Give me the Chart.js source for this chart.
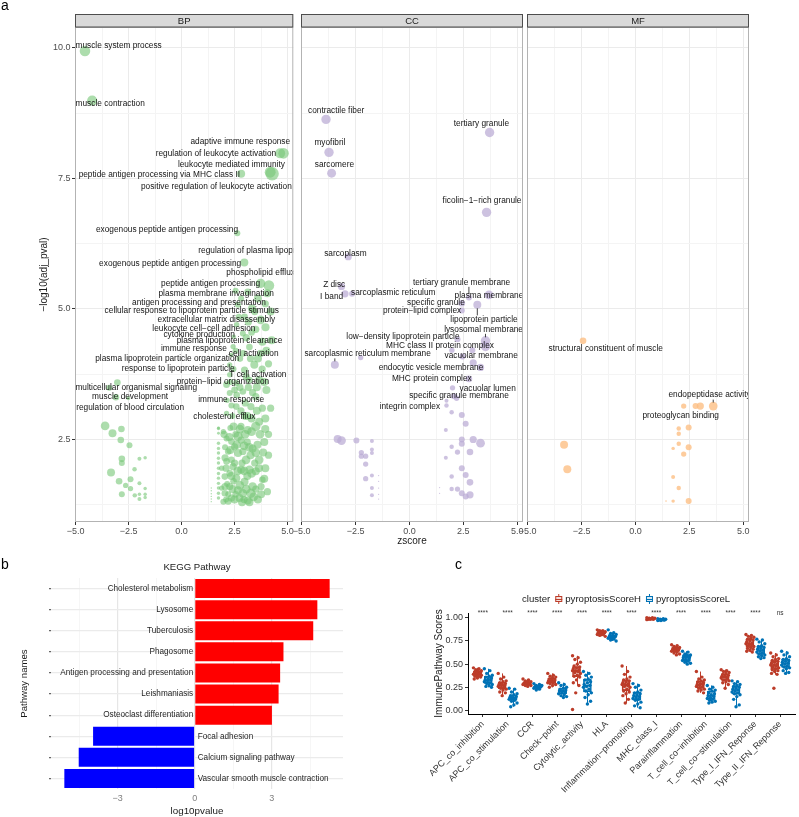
<!DOCTYPE html>
<html>
<head>
<meta charset="utf-8">
<script src="https://cdn.jsdelivr.net/npm/chart.js@4.4.1/dist/chart.umd.min.js"></script>
<style>
  body { margin: 0; background: #fff; }
  #fig { position: relative; width: 799px; height: 817px; overflow: hidden; }
  canvas { position: absolute; }
</style>
</head>
<body>
<div id="fig">
  <canvas id="bp" width="300" height="552" style="left:0;top:0"></canvas>
  <canvas id="cc" width="240" height="552" style="left:290px;top:0"></canvas>
  <canvas id="mf" width="283" height="552" style="left:516px;top:0"></canvas>
  <canvas id="kegg" width="400" height="272" style="left:0;top:545px"></canvas>
  <canvas id="immune" width="399" height="272" style="left:400px;top:545px"></canvas>
</div>
<script>
const FONT = '"Liberation Sans", Arial, sans-serif';
Chart.defaults.font.family = FONT;
Chart.defaults.color = '#4d4d4d';

// ---- panel a: GO terms, [zscore, -log10(adj_pval), gene count] ----
const bpPoints = [
  [-4.56, 9.94, 28], [-4.22, 8.99, 26], [4.65, 7.98, 25], [4.81, 7.98, 28], [4.27, 7.59, 45], [4.18, 7.62, 30],
  [2.81, 7.59, 16], [2.63, 6.45, 9], [2.96, 5.89, 16],
  [3.73, 5.49, 22], [4.12, 5.45, 28], [3.12, 5.33, 11], [2.81, 5.20, 9], [4.04, 5.30, 16], [2.66, 5.08, 9],
  [3.32, 5.01, 16], [2.97, 4.85, 11], [3.73, 4.79, 19], [3.96, 4.65, 16], [3.50, 4.61, 13], [2.89, 4.53, 9],
  [2.46, 4.47, 5], [2.43, 4.28, 7], [3.81, 4.37, 16], [3.20, 4.27, 11], [3.73, 4.15, 13], [2.35, 4.12, 5],
  [2.27, 3.93, 7], [3.43, 3.93, 16], [2.97, 3.83, 13], [2.27, 3.74, 7], [2.12, 3.55, 11], [2.58, 3.58, 9],
  [3.20, 3.64, 11], [3.66, 3.64, 16], [2.27, 3.39, 9], [2.89, 3.42, 11], [3.50, 3.32, 13], [2.58, 3.13, 11],
  [3.27, 3.13, 13], [3.81, 3.10, 13], [2.12, 3.00, 7], [2.97, 2.94, 11], [3.66, 2.84, 16], [1.74, 2.72, 2],
  [1.74, 2.62, 2], [1.97, 2.65, 7],
  [4.20, 4.95, 16], [3.95, 5.10, 13], [4.25, 4.40, 16], [4.10, 3.95, 13], [4.00, 3.45, 16], [4.20, 3.10, 13],
  [3.45, 4.95, 13], [2.60, 4.70, 7], [3.05, 4.45, 13], [3.30, 4.55, 11], [2.75, 4.05, 11], [3.05, 3.70, 13],
  [2.45, 3.85, 9], [3.80, 3.85, 13], [3.35, 3.40, 13], [2.60, 3.35, 11], [3.00, 3.20, 13], [2.40, 2.95, 9],
  [3.30, 2.90, 16], [3.95, 2.90, 16], [2.15, 3.25, 7], [2.80, 2.75, 13], [4.10, 2.60, 13],
  [2.30, 3.60, 9], [2.50, 3.45, 11], [2.75, 3.50, 13], [3.15, 3.50, 13], [3.55, 3.50, 16], [3.90, 3.60, 16],
  [2.35, 3.15, 9], [2.80, 3.05, 13], [3.10, 2.95, 16], [3.55, 3.05, 16], [2.55, 4.20, 9], [2.90, 4.15, 11],
  [3.25, 4.05, 13], [3.60, 4.05, 16], [4.00, 4.20, 16], [2.70, 4.85, 9], [3.15, 4.75, 13], [3.60, 5.20, 16],
  [2.55, 5.35, 9],
  [-3.03, 3.59, 11], [-3.41, 3.49, 9], [-3.10, 3.31, 11], [-2.52, 3.29, 4],
  [-3.61, 2.76, 19], [-3.26, 2.62, 16], [-2.84, 2.70, 11], [-2.87, 2.49, 11], [-2.46, 2.39, 9], [-2.82, 2.13, 11],
  [-2.82, 2.05, 9], [-1.99, 2.13, 4], [-1.72, 2.15, 3], [-2.22, 1.93, 5], [-3.33, 1.87, 16], [-2.41, 1.74, 9],
  [-2.95, 1.70, 11], [-2.64, 1.62, 7], [-1.99, 1.66, 4], [-2.41, 1.56, 7], [-1.72, 1.56, 3], [-2.82, 1.45, 9],
  [-2.21, 1.43, 5], [-1.99, 1.36, 4], [-1.72, 1.45, 3], [-1.72, 1.39, 3], [-1.99, 1.45, 3],
  [2.66, 2.56, 22], [3.12, 2.68, 16], [3.50, 2.75, 22], [2.35, 2.46, 11], [2.81, 2.49, 13], [3.35, 2.33, 16],
  [2.20, 2.27, 11], [2.66, 2.24, 16], [3.04, 2.11, 19], [2.12, 2.08, 11], [2.43, 1.98, 13], [2.81, 1.92, 16],
  [3.20, 1.92, 19], [2.04, 1.79, 11], [2.58, 1.76, 16], [2.97, 1.69, 16], [3.35, 1.60, 19], [2.27, 1.60, 13],
  [2.66, 1.53, 16], [2.04, 1.47, 11], [2.35, 1.38, 13], [2.73, 1.38, 16], [3.12, 1.33, 16], [1.97, 1.31, 9],
  [2.12, 2.52, 9], [2.27, 1.85, 11], [2.50, 2.36, 13], [2.89, 2.27, 13], [3.58, 2.40, 16], [3.66, 2.11, 19],
  [3.50, 1.89, 16], [3.81, 1.73, 11], [3.27, 1.47, 22], [2.89, 1.47, 19], [2.35, 2.11, 11], [1.89, 1.95, 7],
  [1.89, 1.57, 7],
  [3.90, 2.45, 16], [4.10, 2.20, 13], [3.95, 1.95, 16], [4.05, 1.50, 13], [3.60, 1.35, 16], [3.75, 1.60, 13],
  [3.10, 1.80, 16], [3.45, 2.05, 13], [2.55, 2.60, 11], [2.30, 2.72, 9], [2.05, 2.35, 9], [2.50, 2.05, 13],
  [2.15, 1.65, 9], [2.45, 1.70, 11], [2.85, 2.05, 13], [3.10, 2.45, 13], [2.55, 1.45, 11], [2.95, 1.35, 13],
  [2.20, 1.45, 9], [3.50, 1.55, 13], [2.10, 1.35, 9], [3.25, 2.20, 16],
  [2.00, 2.60, 13], [2.25, 2.55, 16], [2.45, 2.75, 16], [2.75, 2.70, 19], [3.00, 2.60, 19], [3.30, 2.65, 19],
  [3.70, 2.60, 19], [3.95, 2.70, 16], [2.05, 2.15, 13], [2.30, 2.30, 16], [2.60, 2.40, 19], [2.95, 2.38, 19],
  [3.20, 2.35, 19], [3.50, 2.25, 19], [3.85, 2.25, 16], [2.10, 1.95, 13], [2.35, 1.80, 16], [2.65, 1.90, 19],
  [2.95, 1.90, 19], [3.30, 1.85, 19], [3.65, 1.95, 16], [3.90, 1.75, 16], [2.05, 1.60, 13], [2.40, 1.55, 16],
  [2.75, 1.62, 19], [3.05, 1.55, 19], [3.40, 1.40, 19], [3.75, 1.45, 16], [2.20, 1.32, 13], [2.50, 1.35, 16],
  [2.85, 1.30, 16], [3.20, 1.30, 16],
  [1.74, 2.71, 3], [1.74, 2.43, 3], [1.74, 2.33, 3], [1.74, 2.24, 3], [1.74, 2.14, 3], [1.74, 2.05, 3],
  [1.74, 1.95, 3], [1.74, 1.85, 3], [1.74, 1.76, 3], [1.74, 1.66, 3], [1.74, 1.57, 3], [1.74, 1.47, 3],
  [1.74, 1.38, 3],
  [1.40, 1.57, 0.5], [1.40, 1.52, 0.5], [1.40, 1.46, 0.5], [1.40, 1.41, 0.5], [1.40, 1.36, 0.5], [1.40, 1.31, 0.5]
];
const ccPoints = [
  [-3.87, 8.63, 22], [3.72, 8.38, 22], [-3.73, 8.00, 22], [-3.61, 7.60, 20], [3.58, 6.85, 22], [-2.84, 6.00, 13],
  [-3.15, 5.43, 13], [-2.99, 5.29, 13], [-2.66, 5.29, 9], [2.76, 5.22, 9], [3.69, 5.27, 19], [2.43, 5.11, 11],
  [2.43, 4.97, 9], [3.15, 5.08, 16], [3.53, 4.39, 22], [2.23, 4.42, 9], [3.53, 4.28, 22], [-3.46, 3.93, 16],
  [-2.26, 4.07, 7], [2.96, 3.97, 13], [3.30, 3.88, 13], [2.76, 3.66, 11], [2.00, 3.49, 7], [2.07, 3.33, 9],
  [1.72, 3.15, 5], [2.46, 4.09, 9], [2.92, 4.21, 9], [1.97, 4.21, 7],
  [-3.33, 2.51, 16], [-3.15, 2.48, 19], [-2.46, 2.48, 9], [-1.74, 2.47, 4], [-2.23, 2.25, 7], [-2.03, 2.18, 7],
  [-2.23, 2.18, 7], [-1.74, 2.31, 4], [-1.74, 2.24, 4], [-2.03, 2.03, 7], [-2.03, 1.75, 7], [-1.74, 1.81, 4],
  [-1.74, 1.57, 4], [-1.74, 1.43, 4], [-1.43, 1.81, 0.4], [-1.43, 1.70, 0.4], [-1.43, 1.57, 0.4], [-1.43, 1.45, 0.4],
  [-1.43, 1.36, 0.4],
  [1.69, 2.68, 4], [1.96, 3.02, 5], [2.43, 2.97, 9], [2.61, 2.80, 9], [2.43, 2.50, 9], [2.43, 2.42, 9],
  [2.96, 2.50, 13], [3.30, 2.43, 19], [1.96, 2.36, 5], [2.23, 2.26, 7], [2.81, 2.26, 11], [1.69, 2.15, 4],
  [2.43, 1.95, 9], [2.61, 1.82, 9], [1.96, 1.79, 5], [2.81, 1.68, 11], [1.96, 1.55, 5], [2.23, 1.55, 7],
  [2.43, 1.47, 9], [2.61, 1.41, 9], [2.81, 1.44, 13], [1.40, 1.58, 0.4], [1.40, 1.47, 0.4], [1.72, 3.24, 4],
  [2.19, 3.29, 7]
];
const mfPoints = [
  [-2.43, 4.39, 11], [3.61, 3.14, 19], [3.01, 3.14, 13], [2.79, 3.14, 9], [2.24, 3.14, 7], [2.47, 2.73, 9],
  [2.01, 2.71, 5], [2.01, 2.61, 5], [-3.31, 2.40, 16], [2.01, 2.42, 5], [1.75, 2.33, 3], [2.47, 2.35, 9],
  [2.24, 2.22, 7], [-3.16, 1.93, 16], [1.75, 1.78, 4], [2.01, 1.57, 5], [2.47, 1.32, 9], [1.75, 1.32, 3],
  [1.42, 1.32, 0.6]
];

// term labels: [text, zscore, -log10p, (segment target zscore, -log10p)]
const bpLabels = [
  ['muscle system process', -2.97, 10.04],
  ['muscle contraction', -3.37, 8.93],
  ['adaptive immune response', 2.77, 8.20],
  ['regulation of leukocyte activation', 1.62, 7.98],
  ['leukocyte mediated immunity', 2.35, 7.77],
  ['peptide antigen processing via MHC class II', -1.05, 7.57],
  ['positive regulation of leukocyte activation', 1.64, 7.34],
  ['exogenous peptide antigen processing', -0.69, 6.51],
  ['regulation of plasma lipoprotein particle levels', 4.75, 6.115],
  ['exogenous peptide antigen processing', -0.54, 5.87],
  ['phospholipid efflux', 3.73, 5.70],
  ['peptide antigen processing', 1.37, 5.48],
  ['plasma membrane invagination', 1.63, 5.30],
  ['antigen processing and presentation', 0.82, 5.12],
  ['cellular response to lipoprotein particle stimulus', 0.48, 4.96],
  ['extracellular matrix disassembly', 1.64, 4.80],
  ['leukocyte cell−cell adhesion', 1.05, 4.63],
  ['cytokine production', 0.83, 4.50],
  ['plasma lipoprotein clearance', 2.26, 4.39],
  ['immune response', 0.58, 4.23],
  ['cell activation', 3.40, 4.15],
  ['plasma lipoprotein particle organization', -0.68, 4.04],
  ['response to lipoprotein particle', -0.16, 3.86],
  ['T cell activation', 3.60, 3.74],
  ['protein−lipid organization', 1.95, 3.61],
  ['multicellular organismal signaling', -2.14, 3.50],
  ['muscle development', -2.43, 3.31],
  ['immune response', 2.34, 3.27],
  ['regulation of blood circulation', -2.43, 3.10],
  ['cholesterol efflux', 2.02, 2.93]
];
const ccLabels = [
  ['contractile fiber', -3.40, 8.79],
  ['tertiary granule', 3.34, 8.55],
  ['myofibril', -3.69, 8.19],
  ['sarcomere', -3.48, 7.76],
  ['ficolin−1−rich granule', 3.37, 7.07],
  ['sarcoplasm', -2.97, 6.05],
  ['Z disc', -3.49, 5.47],
  ['I band', -3.61, 5.23],
  ['sarcoplasmic reticulum', -0.75, 5.31],
  ['tertiary granule membrane', 2.42, 5.51, 2.76, 5.22],
  ['plasma membrane', 3.69, 5.25],
  ['specific granule', 1.23, 5.12],
  ['protein−lipid complex', 0.59, 4.97],
  ['lipoprotein particle', 3.46, 4.79, 3.15, 5.08],
  ['lysosomal membrane', 3.44, 4.61, 3.53, 4.39],
  ['low−density lipoprotein particle', -0.30, 4.46],
  ['MHC class II protein complex', 1.42, 4.30],
  ['sarcoplasmic reticulum membrane', -1.94, 4.14, -3.46, 3.93],
  ['vacuolar membrane', 3.33, 4.10],
  ['endocytic vesicle membrane', 1.00, 3.88],
  ['MHC protein complex', 1.04, 3.66],
  ['vacuolar lumen', 3.63, 3.48],
  ['specific granule membrane', 2.30, 3.33],
  ['integrin complex', 0.02, 3.13]
];
const mfLabels = [
  ['structural constituent of muscle', -1.38, 4.23],
  ['endopeptidase activity', 3.44, 3.35, 3.61, 3.14],
  ['proteoglycan binding', 2.10, 2.96, 3.01, 3.14]
];
const zGrid = [-5, -3.75, -2.5, -1.25, 0, 1.25, 2.5, 3.75, 5];
const lpGrid = [1.25, 2.5, 3.75, 5, 6.25, 7.5, 8.75, 10];

// ---- panel b: KEGG ----
const keggTerms = ['Cholesterol metabolism', 'Lysosome', 'Tuberculosis', 'Phagosome',
  'Antigen processing and presentation', 'Leishmaniasis', 'Osteoclast differentiation',
  'Focal adhesion', 'Calcium signaling pathway', 'Vascular smooth muscle contraction'];
const keggLogP = [5.26, 4.78, 4.62, 3.46, 3.33, 3.27, 3.01, -3.96, -4.52, -5.08];
const keggGrid = [-4.5, -3, -1.5, 0, 1.5, 3, 4.5];

// ---- panel c: immune pathway scores ----
const immuneCats = ['APC_co_inhibition', 'APC_co_stimulation', 'CCR', 'Check−point', 'Cytolytic_activity', 'HLA',
  'Inflammation−promoting', 'MHC_class_I', 'Parainflammation', 'T_cell_co−inhibition', 'T_cell_co−stimulation',
  'Type_I_IFN_Reponse', 'Type_II_IFN_Reponse'];
const clusterNames = ['pyroptosisScoreH', 'pyroptosisScoreL'];
const sigLabels = ['****', '****', '****', '****', '****', '****', '****', '****', '****', '****', '****', '****', 'ns'];
const scoreTicks = [0, 0.25, 0.5, 0.75, 1];
const scoresH = [
  [0.46, 0.45, 0.44, 0.43, 0.43, 0.42, 0.41, 0.41, 0.40, 0.40, 0.40, 0.39, 0.39, 0.38, 0.38, 0.37, 0.37, 0.36, 0.35, 0.34],
  [0.40, 0.36, 0.34, 0.32, 0.31, 0.30, 0.29, 0.28, 0.28, 0.27, 0.27, 0.26, 0.25, 0.24, 0.23, 0.22, 0.20, 0.19, 0.16],
  [0.34, 0.33, 0.32, 0.31, 0.31, 0.30, 0.30, 0.30, 0.29, 0.29, 0.29, 0.28, 0.28, 0.27, 0.27, 0.26],
  [0.40, 0.38, 0.37, 0.36, 0.35, 0.34, 0.33, 0.33, 0.32, 0.32, 0.31, 0.30, 0.30, 0.29, 0.28, 0.27, 0.25],
  [0.59, 0.57, 0.55, 0.52, 0.50, 0.48, 0.47, 0.46, 0.45, 0.44, 0.43, 0.43, 0.42, 0.41, 0.40, 0.38, 0.37, 0.36, 0.33, 0.30, 0.27, 0.19, 0.01],
  [0.87, 0.86, 0.86, 0.85, 0.85, 0.85, 0.84, 0.84, 0.84, 0.83, 0.83, 0.82, 0.82, 0.81, 0.80],
  [0.48, 0.42, 0.39, 0.36, 0.34, 0.33, 0.32, 0.31, 0.30, 0.29, 0.28, 0.28, 0.27, 0.26, 0.25, 0.23, 0.21, 0.20, 0.18, 0.16, 0.12, 0.08],
  [1.00, 1.00, 0.995, 0.995, 0.99, 0.99, 0.99, 0.99, 0.985, 0.985, 0.985, 0.98],
  [0.71, 0.70, 0.69, 0.68, 0.68, 0.67, 0.66, 0.66, 0.65, 0.65, 0.64, 0.64, 0.63, 0.62, 0.61, 0.60],
  [0.42, 0.36, 0.34, 0.33, 0.32, 0.31, 0.30, 0.29, 0.28, 0.28, 0.27, 0.26, 0.25, 0.24, 0.23, 0.22, 0.21, 0.19],
  [0.44, 0.43, 0.42, 0.41, 0.40, 0.39, 0.38, 0.37, 0.37, 0.36, 0.36, 0.35, 0.34, 0.33, 0.32, 0.31, 0.30, 0.28, 0.24],
  [0.82, 0.81, 0.80, 0.79, 0.78, 0.77, 0.76, 0.75, 0.74, 0.73, 0.72, 0.72, 0.71, 0.70, 0.69, 0.68, 0.67, 0.66, 0.65, 0.64, 0.63],
  [0.62, 0.60, 0.58, 0.56, 0.55, 0.54, 0.53, 0.52, 0.51, 0.50, 0.49, 0.49, 0.48, 0.47, 0.46, 0.45, 0.44, 0.43, 0.42, 0.40, 0.39, 0.24]
];
const scoresL = [
  [0.45, 0.43, 0.40, 0.38, 0.37, 0.36, 0.35, 0.34, 0.33, 0.33, 0.32, 0.31, 0.30, 0.29, 0.28, 0.27, 0.26, 0.25],
  [0.24, 0.23, 0.20, 0.18, 0.17, 0.16, 0.15, 0.14, 0.14, 0.13, 0.13, 0.12, 0.11, 0.10, 0.08, 0.06, 0.04],
  [0.29, 0.28, 0.27, 0.27, 0.26, 0.26, 0.26, 0.25, 0.25, 0.25, 0.24, 0.24, 0.23, 0.22],
  [0.30, 0.28, 0.27, 0.25, 0.24, 0.23, 0.22, 0.21, 0.21, 0.20, 0.19, 0.18, 0.17, 0.16, 0.15, 0.14],
  [0.42, 0.40, 0.38, 0.36, 0.34, 0.33, 0.31, 0.30, 0.28, 0.27, 0.26, 0.25, 0.23, 0.21, 0.19, 0.17, 0.14, 0.10, 0.07],
  [0.87, 0.84, 0.83, 0.82, 0.81, 0.81, 0.80, 0.80, 0.79, 0.79, 0.78, 0.78, 0.77, 0.76, 0.75],
  [0.29, 0.27, 0.25, 0.22, 0.20, 0.19, 0.18, 0.17, 0.16, 0.15, 0.14, 0.13, 0.12, 0.11, 0.09, 0.07, 0.05, 0.03],
  [0.99, 0.99, 0.985, 0.985, 0.98, 0.98, 0.98, 0.98, 0.975, 0.975, 0.97, 0.97],
  [0.64, 0.63, 0.61, 0.60, 0.60, 0.59, 0.58, 0.58, 0.57, 0.56, 0.55, 0.54, 0.53, 0.52, 0.51, 0.50],
  [0.27, 0.25, 0.23, 0.22, 0.21, 0.19, 0.18, 0.17, 0.16, 0.15, 0.14, 0.13, 0.12, 0.11, 0.10, 0.09, 0.08],
  [0.32, 0.31, 0.29, 0.28, 0.27, 0.26, 0.25, 0.24, 0.23, 0.22, 0.21, 0.20, 0.19, 0.18, 0.17, 0.15, 0.12, 0.06, 0.04],
  [0.77, 0.76, 0.74, 0.72, 0.70, 0.69, 0.68, 0.67, 0.66, 0.65, 0.64, 0.63, 0.62, 0.61, 0.60, 0.59, 0.58, 0.57, 0.56],
  [0.64, 0.62, 0.60, 0.58, 0.56, 0.55, 0.54, 0.53, 0.52, 0.51, 0.50, 0.49, 0.48, 0.47, 0.46, 0.45, 0.43, 0.41, 0.40]
];

const minus = s => String(s).replace('-', '−');
const isStep = (v, step) => Math.abs(v / step - Math.round(v / step)) < 1e-6;

// panel letters
const panelTag = {
  id: 'panelTag',
  afterDraw(chart, args, o) {
    if (!o.text) return;
    const ctx = chart.ctx;
    ctx.save();
    ctx.font = '14px ' + FONT;
    ctx.fillStyle = '#000';
    ctx.textBaseline = 'alphabetic';
    ctx.fillText(o.text, o.x, o.y);
    ctx.restore();
  }
};

// facet strip, panel border and repelled term labels
const facetDeco = {
  id: 'facetDeco',
  afterDatasetsDraw(chart, args, o) {
    const { ctx, chartArea: a, scales: { x, y } } = chart;
    ctx.save();
    ctx.beginPath();
    ctx.rect(a.left, a.top, a.right - a.left, a.bottom - a.top);
    ctx.clip();
    ctx.font = '8.3px ' + FONT;
    ctx.textAlign = 'center';
    ctx.textBaseline = 'middle';
    ctx.fillStyle = '#141414';
    ctx.strokeStyle = '#141414';
    ctx.lineWidth = 0.8;
    o.labels.forEach(([text, lx, ly, tx, ty]) => {
      const cx = x.getPixelForValue(lx), cy = y.getPixelForValue(ly);
      ctx.fillText(text, cx, cy);
      if (tx === undefined) return;
      const w = ctx.measureText(text).width / 2 + 1, h = 4.5;
      const px = x.getPixelForValue(tx), py = y.getPixelForValue(ty);
      const sx = Math.min(Math.max(px, cx - w), cx + w);
      const sy = Math.min(Math.max(py, cy - h), cy + h);
      const d = Math.hypot(px - sx, py - sy);
      if (d > 5) {
        const k = (d - 3.5) / d;
        ctx.beginPath();
        ctx.moveTo(sx, sy);
        ctx.lineTo(sx + (px - sx) * k, sy + (py - sy) * k);
        ctx.stroke();
      }
    });
    ctx.restore();

    ctx.save();
    ctx.strokeStyle = '#b3b3b3';
    ctx.lineWidth = 1;
    ctx.strokeRect(a.left + 0.5, a.top + 0.5, a.right - a.left - 1, a.bottom - a.top - 1);
    ctx.fillStyle = '#d9d9d9';
    ctx.fillRect(a.left, a.top - 13, a.right - a.left, 13);
    ctx.strokeStyle = '#4d4d4d';
    ctx.strokeRect(a.left + 0.5, a.top - 12.5, a.right - a.left - 1, 12.5);
    ctx.fillStyle = '#1a1a1a';
    ctx.font = '9.5px ' + FONT;
    ctx.textAlign = 'center';
    ctx.textBaseline = 'middle';
    ctx.fillText(o.strip, (a.left + a.right) / 2, a.top - 6);
    ctx.restore();
  }
};

function facet(id, strip, pts, labels, colour, pad, withY, withTitle, tag) {
  return new Chart(document.getElementById(id), {
    type: 'bubble',
    data: {
      datasets: [{
        data: pts.map(p => ({ x: p[0], y: p[1], r: Math.sqrt(p[2]) })),
        backgroundColor: colour,
        borderWidth: 0
      }]
    },
    options: {
      responsive: false,
      animation: false,
      events: [],
      devicePixelRatio: 1,
      layout: { padding: { left: pad[0], right: pad[1], top: 27, bottom: 0 } },
      plugins: {
        legend: { display: false },
        tooltip: { enabled: false },
        facetDeco: { strip, labels },
        panelTag: tag || {}
      },
      scales: {
        x: {
          type: 'linear',
          min: -5.03,
          max: 5.27,
          afterBuildTicks: ax => { ax.ticks = zGrid.map(v => ({ value: v })); },
          afterFit: ax => { ax.height = 30; ax.paddingLeft = 0; ax.paddingRight = 0; },
          border: { display: false },
          grid: {
            color: c => isStep(c.tick.value, 2.5) ? '#ebebeb' : '#f4f4f4',
            tickColor: c => isStep(c.tick.value, 2.5) ? '#333' : 'rgba(0,0,0,0)',
            tickLength: 3
          },
          ticks: {
            autoSkip: false, maxRotation: 0, padding: 1,
            font: { size: 9 }, color: '#4d4d4d',
            callback: v => isStep(v, 2.5) ? minus(v.toFixed(1)) : ''
          },
          title: {
            display: withTitle, text: 'zscore', color: '#1a1a1a',
            font: { size: 10 }, padding: { top: 0, bottom: 5 }
          }
        },
        y: {
          type: 'linear',
          min: 0.92,
          max: 10.4,
          afterBuildTicks: ax => { ax.ticks = lpGrid.map(v => ({ value: v })); },
          afterFit: ax => { ax.width = withY ? 75 : 0; ax.paddingTop = 0; ax.paddingBottom = 0; },
          border: { display: false },
          grid: {
            color: c => isStep(c.tick.value, 2.5) ? '#ebebeb' : '#f4f4f4',
            tickColor: c => isStep(c.tick.value, 2.5) ? '#333' : 'rgba(0,0,0,0)',
            tickLength: 3,
            drawTicks: withY
          },
          ticks: {
            display: withY, autoSkip: false, padding: 1.5,
            font: { size: 9 }, color: '#4d4d4d',
            callback: v => isStep(v, 2.5) ? v.toFixed(1) : ''
          },
          title: {
            display: withY, text: '−log10(adj_pval)', color: '#1a1a1a',
            font: { size: 10 }, padding: { top: 38, bottom: 0 }
          }
        }
      }
    },
    plugins: [facetDeco, panelTag]
  });
}

facet('bp', 'BP', bpPoints, bpLabels, 'rgba(118,198,118,0.6)', [0, 3], true, false, { text: 'a', x: 1, y: 9.5 });
facet('cc', 'CC', ccPoints, ccLabels, 'rgba(186,170,212,0.72)', [11, 7], false, true);
facet('mf', 'MF', mfPoints, mfLabels, 'rgba(253,190,130,0.78)', [11, 50], false, false);

// ---- panel b ----
const pathwayNames = {
  id: 'pathwayNames',
  afterDatasetsDraw(chart) {
    const { ctx, chartArea: a, scales: { x, y } } = chart;
    const zero = x.getPixelForValue(0);
    ctx.save();
    ctx.font = '8.2px ' + FONT;
    ctx.fillStyle = '#262626';
    ctx.textBaseline = 'middle';
    keggTerms.forEach((t, i) => {
      const up = keggLogP[i] > 0;
      ctx.textAlign = up ? 'right' : 'left';
      ctx.fillText(t, zero + (up ? -1.5 : 3), y.getPixelForValue(i));
    });
    ctx.font = '9.6px ' + FONT;
    ctx.fillStyle = '#1a1a1a';
    ctx.textAlign = 'center';
    ctx.fillText('KEGG Pathway', (a.left + a.right) / 2, 22);
    ctx.restore();
  }
};

new Chart(document.getElementById('kegg'), {
  type: 'bar',
  data: {
    labels: keggTerms,
    datasets: [{
      data: keggLogP,
      backgroundColor: keggLogP.map(v => v > 0 ? '#ff0000' : '#0000ff'),
      barPercentage: 0.9,
      categoryPercentage: 1
    }]
  },
  options: {
    indexAxis: 'y',
    responsive: false,
    animation: false,
    events: [],
    devicePixelRatio: 1,
    layout: { padding: { left: 0, right: 57, top: 33, bottom: 0 } },
    plugins: {
      legend: { display: false },
      tooltip: { enabled: false },
      panelTag: { text: 'b', x: 1, y: 24 }
    },
    scales: {
      x: {
        min: -5.6,
        max: 5.78,
        afterBuildTicks: ax => { ax.ticks = keggGrid.map(v => ({ value: v })); },
        afterFit: ax => { ax.height = 28; ax.paddingLeft = 0; ax.paddingRight = 0; },
        border: { display: false },
        grid: {
          color: c => isStep(c.tick.value, 3) ? '#e6e6e6' : '#f2f2f2',
          lineWidth: c => isStep(c.tick.value, 3) ? 1.2 : 0.7,
          drawTicks: false
        },
        ticks: {
          autoSkip: false, maxRotation: 0, padding: 4,
          font: { size: 9 }, color: '#7f7f7f',
          callback: v => isStep(v, 3) ? minus(v) : ''
        },
        title: {
          display: true, text: 'log10pvalue', color: '#1a1a1a',
          font: { size: 9.8 }, padding: { top: 0, bottom: 0 }
        }
      },
      y: {
        afterFit: ax => { ax.width = 51; ax.paddingTop = 0; ax.paddingBottom = 0; },
        border: { display: false },
        grid: { offset: false, color: '#ebebeb', lineWidth: 1.2, tickLength: 2, tickColor: '#666' },
        ticks: { display: false },
        title: {
          display: true, text: 'Pathway names', color: '#1a1a1a',
          font: { size: 9.6 }, padding: { top: 19, bottom: 0 }
        }
      }
    }
  },
  plugins: [pathwayNames, panelTag]
});

// ---- panel c ----
function quantile(s, p) {
  const h = (s.length - 1) * p, lo = Math.floor(h);
  return s[lo] + (s[Math.ceil(h)] - s[lo]) * (h - lo);
}
function boxStats(vals) {
  const s = [...vals].sort((a, b) => a - b);
  const q1 = quantile(s, 0.25), med = quantile(s, 0.5), q3 = quantile(s, 0.75), iqr = q3 - q1;
  const lo = s.find(v => v >= q1 - 1.5 * iqr);
  const hi = [...s].reverse().find(v => v <= q3 + 1.5 * iqr);
  return { q1, med, q3, lo, hi };
}
const groups = [
  { name: clusterNames[0], scores: scoresH, shift: -0.22, colour: '#BC3C29', fill: 'rgba(188,60,41,0.16)' },
  { name: clusterNames[1], scores: scoresL, shift: 0.22, colour: '#0072B5', fill: 'rgba(0,114,181,0.16)' }
];
groups.forEach(g => { g.stats = g.scores.map(boxStats); });
const jitter = k => (((k * 7) % 11) - 5) / 5 * 0.16;

const boxExtras = {
  id: 'boxExtras',
  beforeDatasetsDraw(chart) {
    const { ctx, scales: { x, y } } = chart;
    ctx.save();
    ctx.lineWidth = 1;
    groups.forEach(g => {
      ctx.strokeStyle = g.colour;
      g.stats.forEach((s, i) => {
        const cx = Math.round(x.getPixelForValue(i + g.shift)) + 0.5;
        ctx.beginPath();
        ctx.moveTo(cx, y.getPixelForValue(s.hi));
        ctx.lineTo(cx, y.getPixelForValue(s.q3));
        ctx.moveTo(cx, y.getPixelForValue(s.q1));
        ctx.lineTo(cx, y.getPixelForValue(s.lo));
        ctx.stroke();
      });
    });
    ctx.restore();
  },
  afterDatasetDraw(chart, args) {
    if (args.index > 1) return;
    const g = groups[args.index];
    const { ctx, scales: { x, y } } = chart;
    ctx.save();
    ctx.strokeStyle = g.colour;
    ctx.lineWidth = 1.2;
    g.stats.forEach((s, i) => {
      const cx = x.getPixelForValue(i + g.shift), my = y.getPixelForValue(s.med);
      ctx.beginPath();
      ctx.moveTo(cx - 4, my);
      ctx.lineTo(cx + 4, my);
      ctx.stroke();
    });
    ctx.restore();
  },
  afterDraw(chart) {
    const { ctx, scales: { x, y } } = chart;
    ctx.save();
    ctx.font = '6.5px ' + FONT;
    ctx.fillStyle = '#333';
    ctx.textAlign = 'center';
    ctx.textBaseline = 'middle';
    sigLabels.forEach((s, i) => ctx.fillText(s, x.getPixelForValue(i), y.getPixelForValue(1.045)));
    // legend
    ctx.font = '9.6px ' + FONT;
    ctx.fillStyle = '#1a1a1a';
    ctx.textAlign = 'left';
    let lx = 122;
    const ly = 54;
    ctx.fillText('cluster', lx, ly);
    lx += ctx.measureText('cluster').width + 5;
    groups.forEach(g => {
      ctx.fillStyle = g.fill;
      ctx.fillRect(lx, ly - 3, 7, 6);
      ctx.strokeStyle = g.colour;
      ctx.lineWidth = 1;
      ctx.strokeRect(lx + 0.5, ly - 2.5, 6, 5);
      ctx.beginPath();
      ctx.moveTo(lx, ly + 0.5); ctx.lineTo(lx + 7, ly + 0.5);
      ctx.moveTo(lx + 3.5, ly - 5); ctx.lineTo(lx + 3.5, ly - 2.5);
      ctx.moveTo(lx + 3.5, ly + 2.5); ctx.lineTo(lx + 3.5, ly + 5);
      ctx.stroke();
      lx += 10;
      ctx.fillStyle = '#1a1a1a';
      ctx.fillText(g.name, lx, ly);
      lx += ctx.measureText(g.name).width + 5;
    });
    ctx.restore();
  }
};

const boxDatasets = groups.map(g => ({
  type: 'bar',
  order: 2,
  data: g.stats.map((s, i) => ({ x: i + g.shift, y: [s.q1, s.q3] })),
  backgroundColor: g.fill,
  borderColor: g.colour,
  borderWidth: 1,
  borderSkipped: false,
  barThickness: 8,
  grouped: false
}));
const pointDatasets = groups.map(g => ({
  type: 'scatter',
  order: 1,
  data: g.scores.flatMap((vals, i) => vals.map((v, k) => ({ x: i + g.shift + jitter(k), y: v }))),
  backgroundColor: g.colour,
  borderWidth: 0,
  pointRadius: 1.7
}));

new Chart(document.getElementById('immune'), {
  type: 'bar',
  data: { datasets: [...boxDatasets, ...pointDatasets] },
  options: {
    responsive: false,
    animation: false,
    events: [],
    devicePixelRatio: 1,
    layout: { padding: { left: 0, right: 1, top: 68, bottom: 0 } },
    plugins: {
      legend: { display: false },
      tooltip: { enabled: false },
      panelTag: { text: 'c', x: 55, y: 24 }
    },
    scales: {
      x: {
        type: 'linear',
        offset: false,
        min: -0.6,
        max: 12.6,
        afterBuildTicks: ax => { ax.ticks = immuneCats.map((c, i) => ({ value: i })); },
        afterFit: ax => { ax.height = 103; ax.paddingLeft = 0; ax.paddingRight = 0; },
        border: { display: true, color: '#000', width: 1 },
        grid: { offset: false, drawOnChartArea: false, tickLength: 3, tickColor: '#333' },
        ticks: {
          autoSkip: false, minRotation: 45, maxRotation: 45, padding: 2,
          font: { size: 9 }, color: '#333',
          callback: v => immuneCats[v]
        }
      },
      y: {
        min: -0.038,
        max: 1.052,
        afterBuildTicks: ax => { ax.ticks = scoreTicks.map(v => ({ value: v })); },
        afterFit: ax => { ax.width = 68; ax.paddingTop = 0; ax.paddingBottom = 0; },
        border: { display: true, color: '#000', width: 1 },
        grid: { drawOnChartArea: false, tickLength: 3, tickColor: '#333' },
        ticks: { font: { size: 9 }, color: '#333', padding: 2, callback: v => v.toFixed(2) },
        title: {
          display: true, text: 'ImmunePathway Scores', color: '#1a1a1a',
          font: { size: 10 }, padding: { top: 33, bottom: 0 }
        }
      }
    }
  },
  plugins: [boxExtras, panelTag]
});
</script>
</body>
</html>
